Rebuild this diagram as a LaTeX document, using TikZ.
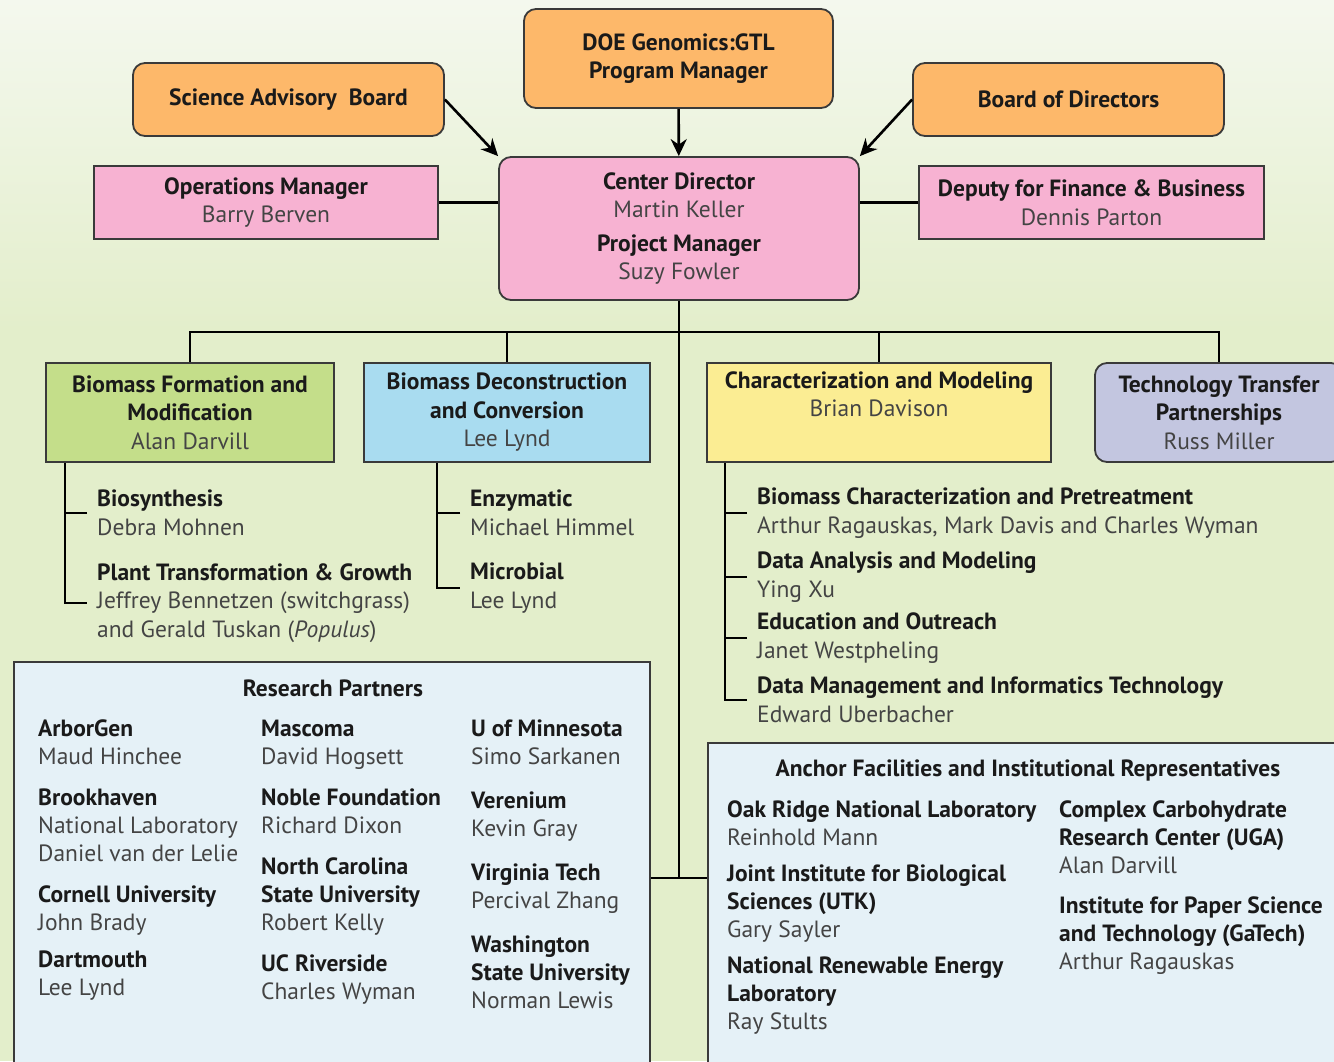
\documentclass[tikz,border=0pt]{standalone}
\usepackage{fontspec}
\setmainfont{PT Sans}
\usetikzlibrary{arrows.meta}

\definecolor{bgtop}{HTML}{F4F8EE}
\definecolor{bgbot}{HTML}{E3EECB}
\definecolor{orangebox}{HTML}{FDB86A}
\definecolor{pinkbox}{HTML}{F7B2D2}
\definecolor{greenbox}{HTML}{C4DE8A}
\definecolor{bluebox}{HTML}{A9DCF0}
\definecolor{yellowbox}{HTML}{FBED93}
\definecolor{violetbox}{HTML}{C3C6E0}
\definecolor{partnerbox}{HTML}{E5F1F7}
\definecolor{edge}{HTML}{3A3A3A}
\definecolor{titleblack}{HTML}{1A1A1A}
\definecolor{namegray}{HTML}{444444}

\newcommand{\ttl}[1]{{\bfseries\color{titleblack}#1}}
\newcommand{\who}[1]{{\color{namegray}#1}}

\begin{document}
\begin{tikzpicture}[x=1pt, y=-1pt, font=\fontsize{23.5}{28.5}\selectfont]
	\tikzstyle{box} = [draw=edge, line width=1.8pt, align=center, inner sep=0pt]
	\tikzstyle{head} = [box, fill=orangebox, rounded corners=12pt]
	\tikzstyle{staff} = [box, fill=pinkbox, minimum height=73pt]
	\tikzstyle{area} = [box, minimum height=99pt]
	\tikzstyle{group} = [box, fill=partnerbox]
	\tikzstyle{item} = [anchor=west, align=left, inner xsep=10pt, inner ysep=0pt]
	\tikzstyle{entry} = [anchor=north west, align=left, inner sep=0pt, font=\fontsize{23.5}{27.7}\selectfont]
	\tikzstyle{link} = [line width=2.6pt]
	\tikzstyle{feed} = [link, -{Stealth[length=17pt,width=16pt]}]

	% page and background
	\path[use as bounding box, clip] (0,0) rectangle (1334,1061);
	\fill[bgbot] (0,0) rectangle (1334,1061);
	\shade[top color=bgtop, bottom color=bgbot] (0,0) rectangle (1334,330);

	% top level
	\node [head, minimum width=309pt, minimum height=99pt] (doe) at (678.5,58.5) {\ttl{DOE Genomics:GTL}\\\ttl{Program Manager}};
	\node [head, minimum width=311pt, minimum height=73pt] (sab) at (288.5,99.5) {\ttl{Science Advisory\ \ Board}};
	\node [head, minimum width=311pt, minimum height=73pt] (bod) at (1068.5,99.5) {\ttl{Board of Directors}};
	\node [box, fill=pinkbox, rounded corners=12pt, minimum width=360pt, minimum height=143pt] (cd) at (679,228.5)
		{\ttl{Center Director}\\\who{Martin Keller}\\[5pt]\ttl{Project Manager}\\\who{Suzy Fowler}};
	\node [staff, minimum width=344pt] (ops) at (266,202.5) {\ttl{Operations Manager}\\\who{Barry Berven}};
	\node [staff, minimum width=345pt] (dep) at (1091.5,202.5) {\ttl{Deputy for Finance \& Business}\\\who{Dennis Parton}};

	\draw [feed] (sab.east) -- (cd.north west);
	\draw [feed] (doe) -- (cd);
	\draw [feed] (bod.west) -- (cd.north east);
	\draw [link] (ops.east) -- (ops.east -| cd.west);
	\draw [link] (dep.west) -- (dep.west -| cd.east);

	% focus areas
	\node [area, fill=greenbox, minimum width=288pt] (form) at (190,412.5) {\ttl{Biomass Formation and}\\\ttl{Modification}\\\who{Alan Darvill}};
	\node [area, fill=bluebox, minimum width=286pt] (decon) at (507,412.5) {\ttl{Biomass Deconstruction}\\\ttl{and Conversion}\\\who{Lee Lynd}};
	\node [area, fill=yellowbox, minimum width=344pt] (charm) at (879,412.5) {\ttl{Characterization and Modeling}\\\who{Brian Davison}\\\strut};
	\node [area, fill=violetbox, rounded corners=12pt, minimum width=248pt] (tech) at (1219,412.5) {\ttl{Technology Transfer}\\\ttl{Partnerships}\\\who{Russ Miller}};

	\coordinate (bus) at (679,332);
	\coordinate (hub) at (679,878);
	\draw [link] (cd.south) -- (hub);
	\draw [link] (form.north) |- (bus) -| (tech.north);
	\draw [link] (decon.north) -- (decon.north |- bus);
	\draw [link] (charm.north) -- (charm.north |- bus);

	% teams under each area
	\node [item] (bios) at (87,513) {\ttl{Biosynthesis}\\\who{Debra Mohnen}};
	\node [item] (plant) at (87,603) {\ttl{Plant Transformation \& Growth}\\\who{Jeffrey Bennetzen (switchgrass)}\\\who{and Gerald Tuskan (\textit{Populus})}};
	\node [item] (enzy) at (460,513) {\ttl{Enzymatic}\\\who{Michael Himmel}};
	\node [item] (micro) at (460,588) {\ttl{Microbial}\\\who{Lee Lynd}};
	\node [item] (bcp) at (747,513) {\ttl{Biomass Characterization and Pretreatment}\\\who{Arthur Ragauskas, Mark Davis and Charles Wyman}};
	\node [item] (dam) at (747,577) {\ttl{Data Analysis and Modeling}\\\who{Ying Xu}};
	\node [item] (edu) at (747,638) {\ttl{Education and Outreach}\\\who{Janet Westpheling}};
	\node [item] (dmit) at (747,700) {\ttl{Data Management and Informatics Technology}\\\who{Edward Uberbacher}};

	\coordinate (formstem) at ([xshift=20pt]form.south west);
	\coordinate (deconstem) at ([xshift=74pt]decon.south west);
	\coordinate (charmstem) at ([xshift=19pt]charm.south west);
	\draw [link] (formstem) |- (plant.west);
	\draw [link] (bios.west) -- (bios.west -| formstem);
	\draw [link] (deconstem) |- (micro.west);
	\draw [link] (enzy.west) -- (enzy.west -| deconstem);
	\draw [link] (charmstem) |- (dmit.west);
	\draw [link] (bcp.west) -- (bcp.west -| charmstem);
	\draw [link] (dam.west) -- (dam.west -| charmstem);
	\draw [link] (edu.west) -- (edu.west -| charmstem);

	% partner panels
	\node [group, minimum width=636pt, minimum height=413pt] (partners) at (332,868.5) {};
	\node [group, minimum width=637pt, minimum height=332pt] (anchors) at (1026.5,909) {};
	\draw [link] (partners.east |- hub) -- (anchors.west |- hub);

	\node [entry, anchor=base] (rptitle) at (333,696) {\ttl{Research Partners}};
	\node [entry] (arbor) at (38,720) {\ttl{ArborGen}\\\who{Maud Hinchee}};
	\node [entry] (bnl) at (38,789) {\ttl{Brookhaven}\\\who{National Laboratory}\\\who{Daniel van der Lelie}};
	\node [entry] (cornell) at (38,886) {\ttl{Cornell University}\\\who{John Brady}};
	\node [entry] (dart) at (38,951) {\ttl{Dartmouth}\\\who{Lee Lynd}};
	\node [entry] (mascoma) at (261,720) {\ttl{Mascoma}\\\who{David Hogsett}};
	\node [entry] (noble) at (261,789) {\ttl{Noble Foundation}\\\who{Richard Dixon}};
	\node [entry] (ncsu) at (261,858) {\ttl{North Carolina}\\\ttl{State University}\\\who{Robert Kelly}};
	\node [entry] (ucr) at (261,955) {\ttl{UC Riverside}\\\who{Charles Wyman}};
	\node [entry] (umn) at (471,720) {\ttl{U of Minnesota}\\\who{Simo Sarkanen}};
	\node [entry] (veren) at (471,792) {\ttl{Verenium}\\\who{Kevin Gray}};
	\node [entry] (vt) at (471,864) {\ttl{Virginia Tech}\\\who{Percival Zhang}};
	\node [entry] (wsu) at (471,936) {\ttl{Washington}\\\ttl{State University}\\\who{Norman Lewis}};

	\node [entry, anchor=base] (aftitle) at (1028,776) {\ttl{Anchor Facilities and Institutional Representatives}};
	\node [entry] (ornl) at (727,801) {\ttl{Oak Ridge National Laboratory}\\\who{Reinhold Mann}};
	\node [entry] (utk) at (727,865) {\ttl{Joint Institute for Biological}\\\ttl{Sciences (UTK)}\\\who{Gary Sayler}};
	\node [entry] (nrel) at (727,957) {\ttl{National Renewable Energy}\\\ttl{Laboratory}\\\who{Ray Stults}};
	\node [entry] (ccrc) at (1059,801) {\ttl{Complex Carbohydrate}\\\ttl{Research Center (UGA)}\\\who{Alan Darvill}};
	\node [entry] (ipst) at (1059,897) {\ttl{Institute for Paper Science}\\\ttl{and Technology (GaTech)}\\\who{Arthur Ragauskas}};
\end{tikzpicture}
\end{document}
